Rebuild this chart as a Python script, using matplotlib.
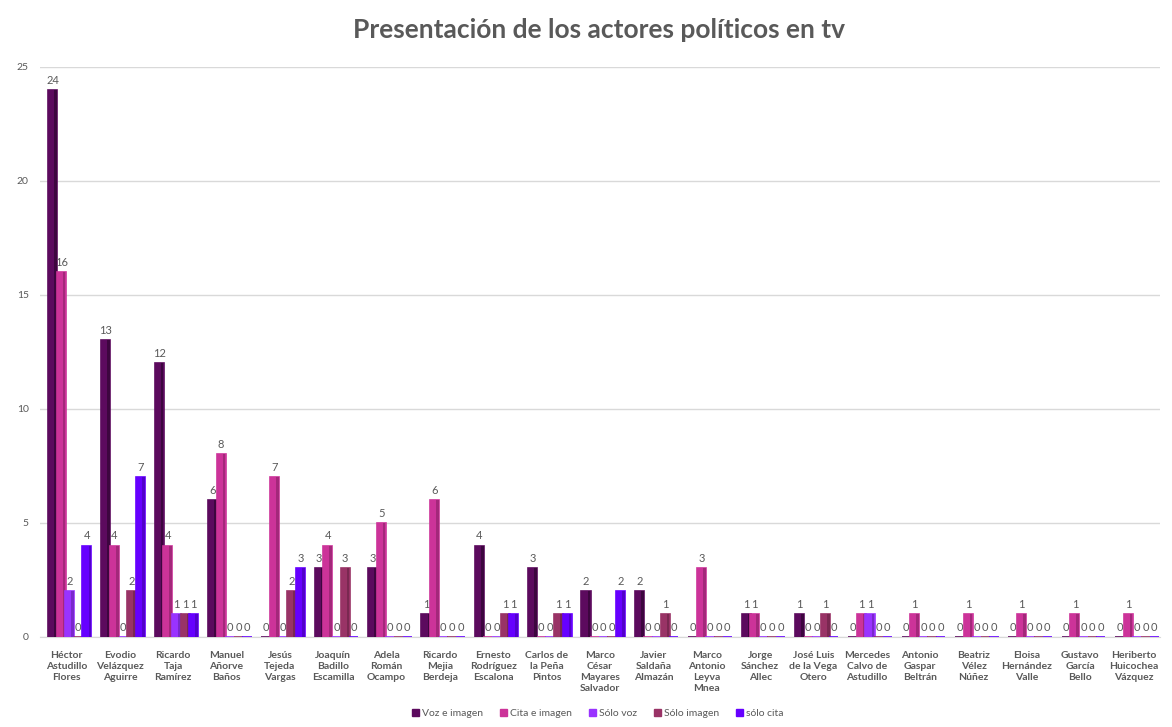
"""
Bar chart: presentation of political actors on tv.
"""

import matplotlib.pyplot as plt
import numpy as np

CATEGORIES = [
    "Héctor\nAstudillo\nFlores", "Evodio\nVelázquez\nAguirre", "Ricardo\nTaja\nRamírez",
    "Manuel\nAñorve\nBaños", "Jesús\nTejeda\nVargas", "Joaquín\nBadillo\nEscamilla",
    "Adela\nRomán\nOcampo", "Ricardo\nMejia\nBerdeja", "Ernesto\nRodríguez\nEscalona",
    "Carlos de\nla Peña\nPintos", "Marco\nCésar\nMayares\nSalvador", "Javier\nSaldaña\nAlmazán",
    "Marco\nAntonio\nLeyva\nMnea", "Jorge\nSánchez\nAllec", "José Luis\nde la Vega\nOtero",
    "Mercedes\nCalvo de\nAstudillo", "Antonio\nGaspar\nBeltrán", "Beatriz\nVélez\nNúñez",
    "Eloisa\nHernández\nValle", "Gustavo\nGarcía\nBello", "Heriberto\nHuicochea\nVázquez",
]
SERIES = ["Voz e imagen", "Cita e imagen", "Sólo voz", "Sólo imagen", "sólo cita"]
VOZ_IMAGEN = [24, 13, 12, 6, 0, 3, 3, 1, 4, 3, 2, 2, 0, 1, 1, 0, 0, 0, 0, 0, 0]
CITA_IMAGEN = [16, 4, 4, 8, 7, 4, 5, 6, 0, 0, 0, 0, 3, 1, 0, 1, 1, 1, 1, 1, 1]
SOLO_VOZ = [2, 0, 1, 0, 0, 0, 0, 0, 0, 0, 0, 0, 0, 0, 0, 1, 0, 0, 0, 0, 0]
SOLO_IMAGEN = [0, 2, 1, 0, 2, 3, 0, 0, 1, 1, 0, 1, 0, 0, 1, 0, 0, 0, 0, 0, 0]
SOLO_CITA = [4, 7, 1, 0, 3, 0, 0, 0, 1, 1, 2, 0, 0, 0, 0, 0, 0, 0, 0, 0, 0]

COLORS = ["#5c0a5e", "#cc3399", "#9933ff", "#993366", "#6600ff"]
SIDE_COLORS = ["#3d063f", "#a3287a", "#7a28cc", "#7a2851", "#5200cc"]
GREY = "#595959"
BAR_W = 0.17

plt.rcParams["font.family"] = ["Lato", "DejaVu Sans"]

fig = plt.figure(figsize=(11.72, 7.27), dpi=100)
ax = fig.add_axes([0.034, 0.124, 0.956, 0.784])

x = np.arange(len(CATEGORIES))
values = [VOZ_IMAGEN, CITA_IMAGEN, SOLO_VOZ, SOLO_IMAGEN, SOLO_CITA]
offsets = (np.arange(len(SERIES)) - 2) * BAR_W * 0.95 + 0.06
for i, (name, vals) in enumerate(zip(SERIES, values)):
    xs = x + offsets[i]
    bars = ax.bar(xs, vals, width=BAR_W, color=COLORS[i], label=name,
                  edgecolor=COLORS[i], linewidth=1.2, zorder=3 + i * 0.01)
    # darker right face to mimic the 3D look
    ax.bar(xs + BAR_W * 0.32, vals, width=BAR_W * 0.3, color=SIDE_COLORS[i],
           linewidth=0, zorder=3 + i * 0.01)
    ax.bar_label(bars, padding=3, fontsize=8, color=GREY)

ax.set_xlim(-0.5, len(CATEGORIES) - 0.5)
ax.set_ylim(0, 25)
ax.set_yticks([0, 5, 10, 15, 20, 25])
ax.tick_params(axis="y", length=0, labelsize=7.5, labelcolor=GREY, pad=8)
ax.set_xticks(x, CATEGORIES)
ax.tick_params(axis="x", length=0, labelsize=7.5, labelcolor=GREY, pad=10)
for lab in ax.get_xticklabels():
    lab.set_fontweight("bold")
    lab.set_linespacing(1.3)
ax.grid(axis="y", color="#d9d9d9", linewidth=1, zorder=0)
for s in ["top", "right", "left"]:
    ax.spines[s].set_visible(False)
ax.spines["bottom"].set_color("#d9d9d9")

fig.suptitle("Presentación de los actores políticos en tv", x=0.511, y=0.975,
             fontsize=19, fontweight="bold", color=GREY)

handles = [plt.Rectangle((0, 0), 1, 1, color=c) for c in COLORS]
fig.legend(handles, SERIES, loc="center", bbox_to_anchor=(0.51, 0.019), ncols=5,
           frameon=False, fontsize=7.5, handlelength=0.7, handleheight=0.7,
           handletextpad=0.3, columnspacing=1.6, labelcolor=GREY)

fig.savefig("out.png", dpi=100)
